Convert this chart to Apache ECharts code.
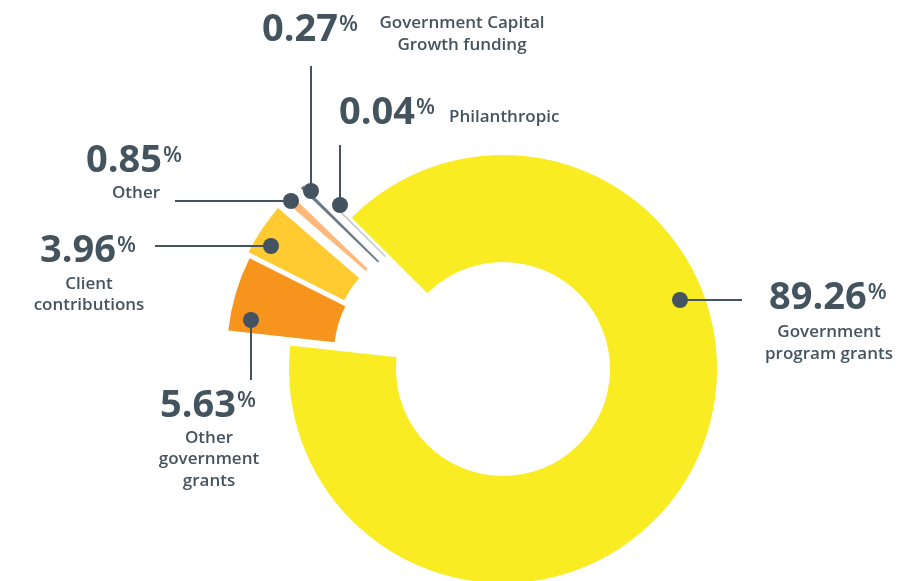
<!DOCTYPE html>
<html>
<head>
<meta charset="utf-8">
<style>
  html, body { margin: 0; padding: 0; background: #ffffff; }
  #chart { width: 906px; height: 581px; }
</style>
<script src="https://cdn.jsdelivr.net/npm/echarts@6.0.0/dist/echarts.min.js"></script>
</head>
<body>
<div id="chart"></div>
<script>
// ---------- data ----------
const names = [
  'Government program grants',
  'Other government grants',
  'Client contributions',
  'Other',
  'Government Capital Growth funding',
  'Philanthropic'
];
const values = [89.26, 5.63, 3.96, 0.85, 0.27, 0.04];
const nameLines = [
  ['Government', 'program grants'],
  ['Other', 'government', 'grants'],
  ['Client', 'contributions'],
  ['Other'],
  ['Government Capital', 'Growth funding'],
  ['Philanthropic']
];

// ---------- styles & layout ----------
const textColor = '#44545F';
const dotColor = '#43535F';
const sliceColors = ['#F9EC22', '#F7941D', '#FFCB31', '#FDB87A', '#6B7C88', '#C3CBD0'];
const sliceBorderColors = ['#ffffff', '#ffffff', '#ffffff', '#ffffff', '#6B7C88', '#C3CBD0'];
const sliceBorderWidths = [0, 0, 0, 3, 0, 1.2];
const pieCenter = [503, 369];
const sliceShift = [[0, 0], [-62, -15], [-63, -21], [-56, -26], [-48, -32.4], [-42.1, -37.1]];
const sliceRadius = [[107, 214], [107, 214], [107, 214], [107, 214], [107, 214], [107, 175]];

// annotation layout: dot, leader end, number (left/top), name lines (x, first y, step), name align
const annot = [
  { dot: [680, 300], end: [742, 300], num: [769, 279], name: [829, 332, 22], align: 'center' },
  { dot: [251, 320], end: [251, 380], num: [160, 387], name: [209, 438, 21.5], align: 'center' },
  { dot: [271, 246], end: [155, 246], num: [40, 232], name: [89, 284, 21.5], align: 'center' },
  { dot: [291, 201], end: [175, 201], num: [86, 142], name: [136, 193, 21.5], align: 'center' },
  { dot: [311, 191], end: [311, 66], num: [262, 11], name: [462, 23, 22], align: 'center' },
  { dot: [340, 205], end: [340, 145], num: [339, 94], name: [449, 117, 22], align: 'left' }
];

const fontFamily = '"Open Sans", "Noto Sans", sans-serif';

// ---------- series: each slice drawn by the pie layout from the full data ----------
const series = values.map((_, i) => ({
  type: 'pie',
  center: [pieCenter[0] + sliceShift[i][0], pieCenter[1] + sliceShift[i][1]],
  radius: sliceRadius[i],
  startAngle: 135,
  clockwise: true,
  silent: true,
  animation: false,
  avoidLabelOverlap: false,
  z: i === 0 ? 1 : 2,
  label: { show: false },
  labelLine: { show: false },
  emphasis: { disabled: true },
  data: names.map((n, j) => ({
    name: n,
    value: values[j],
    itemStyle: j === i
      ? { color: sliceColors[i], borderColor: sliceBorderColors[i], borderWidth: sliceBorderWidths[i] }
      : { color: 'rgba(0,0,0,0)', borderWidth: 0 }
  }))
}));

// ---------- annotations ----------
const graphics = [];
annot.forEach((a, i) => {
  graphics.push({
    type: 'line', z: 100, silent: true,
    shape: { x1: a.dot[0], y1: a.dot[1], x2: a.end[0], y2: a.end[1] },
    style: { stroke: dotColor, lineWidth: 2 }
  });
  graphics.push({
    type: 'circle', z: 101, silent: true,
    shape: { cx: a.dot[0], cy: a.dot[1], r: 8 },
    style: { fill: dotColor }
  });
  graphics.push({
    type: 'text', z: 102, silent: true,
    x: a.num[0], y: a.num[1],
    style: {
      text: '{n|' + values[i].toFixed(2) + '}{p|%}',
      align: 'left', verticalAlign: 'top',
      rich: {
        n: { fontSize: 38, fontWeight: 700, fontFamily: fontFamily, fill: textColor, lineHeight: 38 },
        p: { fontSize: 22, fontWeight: 600, fontFamily: fontFamily, fill: textColor, lineHeight: 22, verticalAlign: 'top', padding: [3, 0, 0, 1] }
      }
    }
  });
  nameLines[i].forEach((t, k) => {
    graphics.push({
      type: 'text', z: 102, silent: true,
      x: a.name[0], y: a.name[1] + k * a.name[2],
      style: {
        text: t, align: a.align, verticalAlign: 'middle',
        fontSize: 17, fontWeight: 600, fontFamily: fontFamily, fill: textColor
      }
    });
  });
});

const chart = echarts.init(document.getElementById('chart'), null, { renderer: 'canvas' });
chart.setOption({
  backgroundColor: '#ffffff',
  animation: false,
  series: series,
  graphic: { elements: graphics }
});
</script>
</body>
</html>
